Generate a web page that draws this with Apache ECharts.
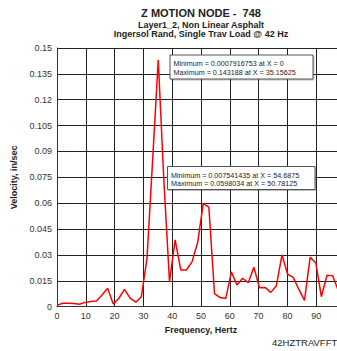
<!DOCTYPE html>
<html>
<head>
<meta charset="utf-8">
<script src="https://cdn.jsdelivr.net/npm/echarts@6/dist/echarts.min.js"></script>
<style>
  html, body { margin: 0; padding: 0; background: #fff; }
  #chart { width: 337px; height: 351px; }
</style>
</head>
<body>
<div id="chart"></div>
<script>
// FFT of Z velocity at node 748, 1.953125 Hz bins
const frequencies = [
  0, 1.953125, 3.90625, 5.859375, 7.8125, 9.765625, 11.71875, 13.671875, 15.625, 17.578125,
  19.53125, 21.484375, 23.4375, 25.390625, 27.34375, 29.296875, 31.25, 33.203125, 35.15625, 37.109375,
  39.0625, 41.015625, 42.96875, 44.921875, 46.875, 48.828125, 50.78125, 52.734375, 54.6875, 56.640625,
  58.59375, 60.546875, 62.5, 64.453125, 66.40625, 68.359375, 70.3125, 72.265625, 74.21875, 76.171875,
  78.125, 80.078125, 82.03125, 83.984375, 85.9375, 87.890625, 89.84375, 91.796875, 93.75, 95.703125,
  97.65625
];
const velocity = [
  0.0007916753, 0.0020, 0.0020, 0.0018, 0.0014, 0.0025, 0.0030, 0.0033, 0.0068, 0.0107,
  0.0016, 0.0049, 0.0101, 0.0050, 0.0026, 0.0058, 0.0280, 0.0850, 0.143188, 0.0730,
  0.0145, 0.0387, 0.0213, 0.0213, 0.0260, 0.0372, 0.0598034, 0.0577, 0.007541435, 0.0053,
  0.0047, 0.0202, 0.0126, 0.0165, 0.0139, 0.0229, 0.0110, 0.0112, 0.0083, 0.0122,
  0.0300, 0.0188, 0.0170, 0.0100, 0.0037, 0.0286, 0.0255, 0.0058, 0.0182, 0.0180,
  0.0095
];
const xTicks = [0, 10, 20, 30, 40, 50, 60, 70, 80, 90, 100];
const yTicks = [0, 0.015, 0.03, 0.045, 0.06, 0.075, 0.09, 0.105, 0.12, 0.135, 0.15];

// frequency ranges summarised in the two annotation boxes
const statRanges = [[0, 100], [45, 55]];

const titleText = 'Z MOTION NODE -  748';
const subtitle1 = 'Layer1_2, Non Linear Asphalt';
const subtitle2 = 'Ingersol Rand, Single Trav Load @ 42 Hz';
const footerText = '42HZTRAVFFT';

function rangeStats(lo, hi) {
  let iMin = -1, iMax = -1;
  for (let i = 0; i < frequencies.length; i++) {
    if (frequencies[i] < lo || frequencies[i] > hi) continue;
    if (iMin < 0 || velocity[i] < velocity[iMin]) iMin = i;
    if (iMax < 0 || velocity[i] > velocity[iMax]) iMax = i;
  }
  return [
    'Minimum = ' + String(velocity[iMin]) + ' at X = ' + String(frequencies[iMin]),
    'Maximum = ' + String(velocity[iMax]) + ' at X = ' + String(frequencies[iMax])
  ];
}

const FONT = '"Liberation Sans", Arial, sans-serif';
const chart = echarts.init(document.getElementById('chart'), null, { renderer: 'svg' });

function statBox(lines, x, y, w, h) {
  return {
    type: 'group', x: x, y: y,
    children: [
      { type: 'rect', z: 100, shape: { x: 0, y: 0, width: w, height: h },
        style: { fill: '#fff', stroke: '#555', lineWidth: 1,
                 shadowColor: 'rgba(0,0,0,0.25)', shadowOffsetX: 1, shadowOffsetY: 1, shadowBlur: 1 } },
      { type: 'text', z: 101, x: 3.5, y: 8.5,
        style: { text: lines[0], font: '7.2px ' + FONT, fill: '#222', verticalAlign: 'middle' } },
      { type: 'text', z: 101, x: 3.5, y: 17,
        style: { text: lines[1], font: '7.2px ' + FONT, fill: '#222', verticalAlign: 'middle' } }
    ]
  };
}

const box1 = rangeStats(statRanges[0][0], statRanges[0][1]);
const box2 = rangeStats(statRanges[1][0], statRanges[1][1]);

chart.setOption({
  animation: false,
  backgroundColor: '#fff',
  grid: { left: 57, top: 48, width: 288, height: 258.7, containLabel: false, outerBoundsMode: 'none' },
  xAxis: {
    type: 'value',
    min: xTicks[0], max: xTicks[xTicks.length - 1], interval: 10,
    name: 'Frequency, Hertz', nameLocation: 'middle', nameGap: 15,
    nameTextStyle: { fontFamily: FONT, fontSize: 9, fontWeight: 'bold', color: '#222' },
    axisLine: { show: true, lineStyle: { color: '#333', width: 1 } },
    axisTick: { show: false },
    axisLabel: { fontFamily: FONT, fontSize: 9, color: '#333', margin: 5, showMaxLabel: false },
    splitLine: { show: true, lineStyle: { color: '#222', width: 1 } }
  },
  yAxis: {
    type: 'value',
    min: yTicks[0], max: yTicks[yTicks.length - 1], interval: 0.015,
    name: 'Velocity, in/sec', nameLocation: 'middle', nameGap: 31,
    nameTextStyle: { fontFamily: FONT, fontSize: 9, fontWeight: 'bold', color: '#222' },
    axisLine: { show: true, lineStyle: { color: '#333', width: 1 } },
    axisTick: { show: false },
    axisLabel: {
      fontFamily: FONT, fontSize: 9, color: '#333', margin: 5,
      formatter: v => String(parseFloat(v.toFixed(3)))
    },
    splitLine: { show: true, lineStyle: { color: '#222', width: 1 } }
  },
  series: [{
    type: 'line',
    data: frequencies.map((f, i) => [f, velocity[i]]),
    showSymbol: false,
    lineStyle: { color: '#ff0000', width: 1.5 },
    z: 10
  }],
  graphic: [
    { type: 'text', x: 201, y: 13,
      style: { text: titleText, font: 'bold 11px ' + FONT, fill: '#222', align: 'center', verticalAlign: 'middle' } },
    { type: 'text', x: 201, y: 24.5,
      style: { text: subtitle1, font: 'bold 9px ' + FONT, fill: '#222', align: 'center', verticalAlign: 'middle' } },
    { type: 'text', x: 201, y: 34,
      style: { text: subtitle2, font: 'bold 9px ' + FONT, fill: '#222', align: 'center', verticalAlign: 'middle' } },
    { type: 'text', x: 272, y: 342,
      style: { text: footerText, font: '9.5px ' + FONT, fill: '#222', verticalAlign: 'middle' } },
    statBox(box1, 170, 55, 143, 24),
    statBox(box2, 167.5, 166.5, 147.5, 23)
  ]
});
</script>
</body>
</html>
